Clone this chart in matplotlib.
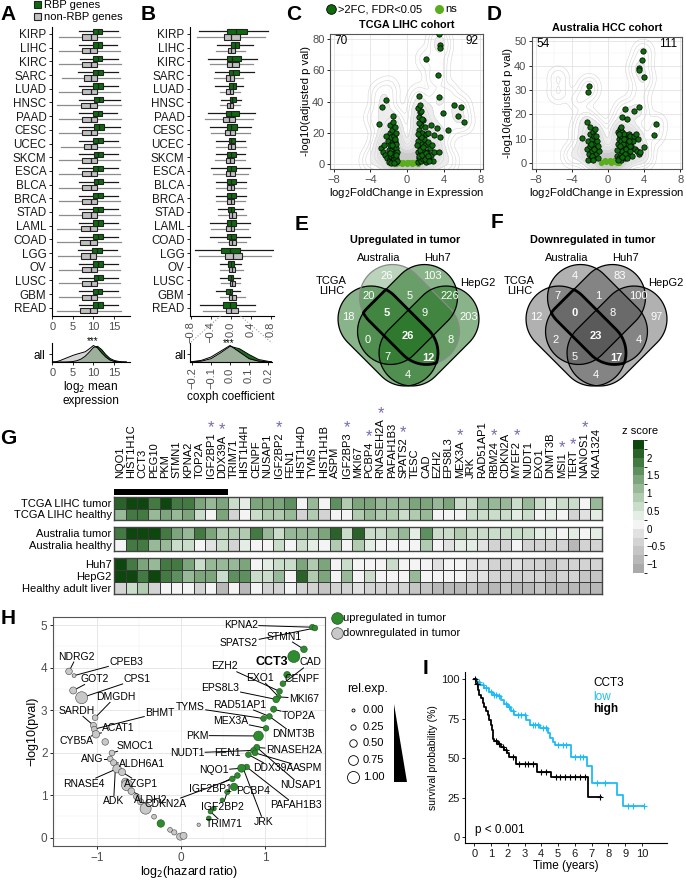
import numpy as np
import matplotlib
matplotlib.use("Agg")
import matplotlib.pyplot as plt
import matplotlib.patches as mpatches
from matplotlib.colors import ListedColormap, BoundaryNorm
from matplotlib.cm import ScalarMappable

plt.rcParams['font.family'] = ['Liberation Sans', 'DejaVu Sans']

# ---------------- data ----------------
cancers = ["KIRP", "LIHC", "KIRC", "SARC", "LUAD", "HNSC", "PAAD", "CESC", "UCEC", "SKCM", "ESCA",
           "BLCA", "BRCA", "STAD", "LAML", "COAD", "LGG", "OV", "LUSC", "GBM", "READ"]

# panel A: log2 mean expression (box stats)
A_rbp_q1 = [9.9, 9.9, 9.8, 9.9, 9.9, 10.1, 9.8, 10.2, 9.9, 10.1, 9.9, 10.1, 9.9, 9.9, 9.8, 9.9, 9.7, 9.9, 10.1, 9.9, 9.9]
A_rbp_med = [11.1, 11.1, 11.0, 11.2, 11.1, 11.3, 11.0, 11.3, 11.1, 11.2, 11.1, 11.2, 11.1, 11.1, 11.1, 11.2, 10.9, 11.1, 11.2, 11.0, 11.2]
A_rbp_q3 = [12.2, 12.2, 12.1, 12.4, 12.3, 12.4, 12.0, 12.5, 12.3, 12.4, 12.3, 12.4, 12.3, 12.3, 12.3, 12.4, 12.1, 12.3, 12.4, 12.2, 12.4]
A_rbp_lo = [6.5, 6.5, 6.8, 6.3, 6.5, 6.5, 6.5, 6.5, 6.5, 6.4, 6.3, 6.5, 6.5, 6.5, 6.5, 6.5, 6.2, 6.5, 6.5, 6.4, 6.5]
A_rbp_hi = [16.0, 15.8, 16.0, 16.0, 16.0, 16.4, 15.8, 16.4, 16.0, 16.0, 16.0, 16.0, 16.0, 16.0, 16.0, 16.0, 15.8, 16.0, 16.0, 16.0, 16.0]
A_non_q1 = [7.2, 7.2, 7.2, 7.6, 7.3, 7.0, 7.3, 7.2, 7.6, 7.2, 7.2, 7.2, 7.2, 7.2, 7.0, 6.8, 7.0, 7.2, 7.2, 7.2, 6.8]
A_non_med = [9.3, 9.2, 9.3, 9.5, 9.3, 9.1, 9.3, 9.3, 9.5, 9.3, 9.3, 9.3, 9.3, 9.3, 9.1, 9.1, 9.1, 9.3, 9.3, 9.3, 9.1]
A_non_q3 = [10.9, 10.9, 10.9, 10.9, 10.9, 10.9, 10.9, 10.9, 10.9, 10.8, 10.9, 10.9, 10.9, 10.9, 10.9, 10.9, 10.7, 10.9, 10.9, 10.8, 10.9]
A_non_lo = [1.6, 1.6, 1.6, 2.4, 1.6, 1.1, 1.6, 1.6, 2.2, 1.6, 1.6, 1.6, 1.6, 1.6, 1.1, 1.1, 1.4, 1.6, 1.6, 1.6, 1.1]
A_non_hi = [16.4, 16.4, 16.8, 16.4, 16.4, 16.8, 16.6, 16.4, 16.4, 16.4, 16.4, 16.4, 16.4, 16.4, 16.4, 16.8, 16.4, 16.4, 16.4, 16.4, 16.8]

# panel A density ("all")
A_dens_x = [0, 1, 2, 3, 4, 5, 6, 7, 8, 9, 10, 11, 12, 13, 14, 15, 16, 17, 18]
A_dens_non = [0, 0.02, 0.1, 0.2, 0.3, 0.4, 0.48, 0.55, 0.62, 0.8, 1.0, 0.85, 0.55, 0.3, 0.12, 0.04, 0.01, 0, 0]
A_dens_rbp = [0, 0, 0, 0, 0.01, 0.03, 0.08, 0.18, 0.35, 0.6, 0.88, 0.95, 0.75, 0.45, 0.22, 0.1, 0.04, 0.01, 0]

# panel B: coxph coefficient (box stats)
B_rbp_q1 = [-0.07, 0.00, -0.07, -0.03, -0.03, -0.02, -0.10, -0.07, -0.04, -0.07, -0.07, -0.07, -0.07, -0.05, -0.07, -0.07, -0.19, -0.05, -0.05, -0.09, -0.15]
B_rbp_med = [0.11, 0.08, 0.03, 0.05, 0.05, 0.03, 0.00, 0.00, 0.01, 0.00, 0.01, 0.01, 0.01, 0.00, 0.00, 0.00, -0.02, 0.00, 0.00, -0.02, -0.02]
B_rbp_q3 = [0.33, 0.17, 0.20, 0.17, 0.11, 0.10, 0.17, 0.13, 0.08, 0.10, 0.11, 0.10, 0.10, 0.07, 0.10, 0.10, 0.19, 0.07, 0.05, 0.03, 0.11]
B_rbp_lo = [-0.63, -0.27, -0.45, -0.32, -0.32, -0.19, -0.45, -0.42, -0.29, -0.30, -0.39, -0.29, -0.29, -0.25, -0.42, -0.42, -0.72, -0.22, -0.22, -0.29, -0.62]
B_rbp_hi = [0.74, 0.44, 0.52, 0.46, 0.25, 0.21, 0.48, 0.41, 0.28, 0.28, 0.38, 0.30, 0.30, 0.25, 0.38, 0.38, 0.85, 0.21, 0.18, 0.18, 0.48]
B_non_q1 = [-0.14, -0.05, -0.07, -0.09, -0.10, -0.07, -0.15, -0.11, -0.05, -0.09, -0.09, -0.07, -0.07, -0.03, -0.09, -0.03, -0.12, -0.03, -0.02, -0.03, -0.10]
B_non_med = [0.01, 0.00, 0.02, -0.01, -0.01, -0.01, -0.03, -0.01, 0.01, -0.01, -0.01, 0.00, 0.00, 0.03, 0.00, 0.02, 0.04, 0.02, 0.02, 0.02, 0.01]
B_non_q3 = [0.19, 0.08, 0.16, 0.07, 0.05, 0.04, 0.09, 0.09, 0.08, 0.07, 0.08, 0.07, 0.06, 0.11, 0.07, 0.11, 0.23, 0.09, 0.08, 0.10, 0.15]
B_non_lo = [-0.67, -0.30, -0.41, -0.34, -0.22, -0.22, -0.52, -0.39, -0.29, -0.32, -0.35, -0.30, -0.29, -0.25, -0.39, -0.25, -0.64, -0.22, -0.19, -0.22, -0.55]
B_non_hi = [0.68, 0.28, 0.45, 0.25, 0.18, 0.18, 0.45, 0.38, 0.31, 0.28, 0.35, 0.30, 0.28, 0.31, 0.35, 0.30, 0.80, 0.25, 0.18, 0.28, 0.48]

B_dens_x = [-0.22, -0.2, -0.15, -0.1, -0.05, 0.0, 0.05, 0.1, 0.15, 0.2, 0.22]
B_dens_non = [0, 0.02, 0.1, 0.3, 0.65, 1.0, 0.6, 0.2, 0.05, 0.01, 0]
B_dens_rbp = [0, 0.01, 0.05, 0.2, 0.55, 0.95, 0.8, 0.45, 0.15, 0.04, 0.01]

# panel C: TCGA LIHC volcano
C_up_x = [1.2, 1.2, 1.25, 1.3, 1.3, 1.35, 1.4, 1.4, 1.45, 1.5, 1.5, 1.55, 1.6, 1.65, 1.7, 1.75, 1.8, 1.85, 1.9, 2.0,
          2.1, 2.1, 2.2, 2.3, 2.4, 2.5, 2.6, 2.7, 2.8, 2.9, 1.3, 1.5, 1.6, 2.0, 2.3, 1.25, 1.4, 1.3,
          1.35, 1.45, 1.55, 1.65, 1.75, 1.95, 2.05, 2.25, 2.45, 1.15, 1.2, 3.5, 3.6, 3.6, 2.1, 3.4, 3.5, 3.9, 5.1, 5.9, 5.6,
          6.2, 4.5, 3.6, 3.3, 2.6, 2.9, 3.5]
C_up_y = [1, 8, 15, 22, 4, 30, 11, 33, 18, 2, 25, 7, 13, 20, 3, 28, 9, 16, 5, 12,
          1.5, 19, 8, 14, 3, 10, 6, 12, 2, 8, 26, 34, 29, 24, 20, 36, 38, 43.5,
          5, 9, 17, 6, 11, 3, 7, 5, 2, 12, 19, 83, 76, 74, 67, 57, 42.6, 32.5, 37.6, 36.8, 30.8,
          27, 22, 17.5, 23, 25, 18.6, 7.5]
C_dn_x = [-2.8, -2.6, -2.5, -2.4, -2.2, -2.1, -2.0, -1.9, -1.9, -1.8, -1.8, -1.7, -1.7, -1.6, -1.6, -1.6, -1.55, -1.5, -1.5, -1.45,
          -1.4, -1.4, -1.35, -1.3, -1.3, -1.25, -1.25, -1.2, -1.2, -1.15, -1.1, -1.1, -2.3, -2.0, -1.75, -1.45, -1.9, -1.65, -1.35, -1.2,
          -3.0, -2.7, -2.25, -1.55]
C_dn_y = [10, 8, 12, 6, 4, 15, 9, 3, 20, 12, 25, 5, 17, 2, 9, 22, 14, 27, 6, 18,
          11, 3, 24, 7, 15, 1, 20, 10, 4, 13, 2, 8, 18, 1.5, 0.8, 0.5, 7, 12, 16, 6,
          25.5, 36.8, 41, 30.8]
C_ns_x = [-1.2, -1.0, -0.8, -0.6, -0.4, -0.2, 0.0, 0.2, 0.4, 0.6, 0.8, 1.0, 1.2, -0.5, 0.5, 0.0, -0.9, 0.9]
C_ns_y = [0.3, 0.8, 1.2, 0.5, 1.5, 0.7, 1.0, 1.4, 0.6, 1.1, 0.9, 0.4, 0.2, 0.2, 0.3, 0.2, 0.4, 1.6]
C_bg_x = [-4.0, -3.5, -3.0, -2.5, -2.0, -1.5, -1.0, -0.5, 0.0, 0.5, 1.0, 1.5, 2.0, 2.5, 3.0, 3.5, 4.0, 4.5,
          -3.0, -2.5, -2.0, -1.5, -1.0, 1.0, 1.5, 2.0, 2.5, 3.0, 3.5, -3.5, -2.5, -1.5, 1.5, 2.5, 3.5,
          -3.0, -2.0, 3.0, 3.5, 3.5, 4.5, 5.5]
C_bg_y = [2, 3, 4, 5, 6, 5, 3, 1, 0.5, 1, 3, 5, 6, 5, 4, 3, 2, 1.5,
          12, 15, 18, 15, 10, 10, 15, 18, 15, 12, 10, 30, 35, 25, 28, 35, 40,
          45, 48, 55, 65, 78, 45, 30]

# panel D: Australia HCC volcano
D_up_x = [1.0, 1.1, 1.1, 1.2, 1.2, 1.3, 1.3, 1.4, 1.4, 1.5, 1.5, 1.6, 1.6, 1.7, 1.8, 1.8, 1.9, 2.0, 2.0, 2.1,
          2.2, 2.3, 2.4, 2.5, 2.6, 2.7, 2.8, 3.0, 3.2, 3.4, 1.05, 1.25, 1.45, 1.65, 1.85, 2.15, 2.45, 2.9, 3.3,
          1.15, 1.35, 1.55, 1.75, 2.35, 3.9, 3.75, 3.4, 3.45, 4.0, 1.93, 3.45, 2.9, 1.56, 2.1, 5.35, 5.1, 4.0, 3.6, 3.1]
D_up_y = [3, 8, 13, 2, 10, 6, 14, 4, 11, 1.5, 9, 5, 13, 3, 7, 12, 2, 6, 10, 4,
          8, 12, 5, 11, 7, 3, 9, 6, 5, 4, 5.5, 12, 15, 8, 4, 2, 7, 11, 10,
          1.5, 7, 2.5, 10, 9, 45.9, 42.2, 39, 38, 35.2, 22.3, 22.9, 21.5, 18.9, 18.2, 16, 11.6, 6.8, 4.5, 12]
D_dn_x = [-2.3, -2.2, -2.1, -2.0, -2.0, -1.9, -1.8, -1.8, -1.7, -1.6, -1.6, -1.5, -1.4, -1.4, -1.3, -1.2, -1.1, -1.0,
          -2.15, -1.95, -1.75, -1.55, -1.35, -1.15, -1.85, -1.65, -2.07, -2.2, -2.36, -2.9]
D_dn_y = [6, 9, 4, 12, 7, 2, 10, 5, 13, 3, 8, 11, 6, 14, 4, 9, 2, 5,
          1.5, 15, 3, 6, 11, 7, 8, 1.5, 31.8, 29.2, 17, 10.3]
D_ns_x = [-0.8, -0.6, -0.4, -0.2, 0.0, 0.2, 0.4, 0.6, 0.8, 1.0, 1.2, -0.3, 0.3, 0.7]
D_ns_y = [0.3, 0.6, 1.0, 0.5, 0.8, 1.2, 0.6, 0.9, 0.5, 0.3, 0.2, 1.4, 0.2, 1.3]
D_bg_x = [-4.0, -3.5, -3.0, -2.5, -2.0, -1.5, -1.0, -0.5, 0.0, 0.5, 1.0, 1.5, 2.0, 2.5, 3.0, 3.5, 4.0,
          -3.0, -2.5, -1.5, -1.0, 1.5, 2.5, 3.5, 3.5, 3.8, -5.5, -5.5, -3.2]
D_bg_y = [3, 4, 5, 6, 5, 4, 2, 1, 0.5, 1, 3, 5, 6, 5, 4, 3, 2,
          14, 18, 12, 8, 12, 14, 20, 28, 33, 35, 29, 26]

# panels E/F: Venn counts (order: Aus, Huh7, TCGA&Aus, Aus&Huh7, Huh7&HepG2, TCGA, TCGA&Aus&Huh7,
# Aus&Huh7&HepG2, HepG2, TCGA&Huh7, all, Aus&HepG2, TCGA&Huh7&HepG2, TCGA&Aus&HepG2, TCGA&HepG2)
venn_up = [26, 103, 20, 5, 226, 18, 5, 9, 203, 0, 26, 8, 7, 12, 4]
venn_down = [4, 83, 7, 1, 100, 12, 0, 8, 97, 2, 23, 4, 5, 17, 4]
venn_bold = [False, False, False, False, False, False, True, False, False, False, True, False, False, True, False]

# panel G: heatmap z scores
genes = ["NQO1", "HIST1H1C", "CCT3", "PEG10", "PKM", "STMN1", "KPNA2", "TOP2A", "IGF2BP1", "DDX39A",
         "TRIM71", "HIST1H4H", "CENPF", "NUSAP1", "IGF2BP2", "FEN1", "HIST1H4D", "TYMS", "HIST1H1B", "ASPM",
         "IGF2BP3", "MKI67", "PCBP4", "RNASEH2A", "PAFAH1B3", "SPATS2", "TESC", "CAD", "EZH2", "EPS8L3",
         "MEX3A", "JRK", "RAD51AP1", "RBM24", "CDKN2A", "MYEF2", "NUDT1", "EXO1", "DNMT3B", "MSI1",
         "TERT", "NANOS1", "KIAA1324"]
starred = ["IGF2BP1", "DDX39A", "IGF2BP2", "IGF2BP3", "PCBP4", "RNASEH2A", "SPATS2", "MEX3A", "RBM24",
           "MYEF2", "MSI1", "TERT", "NANOS1"]
hm_tcga_tumor = [2.0, 2.4, 2.4, 1.9, 2.4, 1.9, 1.8, 1.4, 1.0, 1.4, 0.6, 0.3, 1.4, 1.3,
                 1.3, 1.5, 0.1, 1.0, 0.1, 1.5, 0.9, 1.4, 1.4, 1.1, 1.1, 1.2, 1.4, 1.4, 1.0, 1.4,
                 0.7, 0.6, 1.0, 1.0, 1.0, 0.6, 1.0, 0.5, 0.3, 0.6, 0.7, 0.2, 1.2]
hm_tcga_healthy = [1.0, 1.8, 1.8, 1.0, 1.3, 1.1, 1.4, 0.6, 0.1, 1.4, -0.4, 0.2, 0.5, 0.8,
                   0.8, 1.2, -0.3, 0.8, -0.4, 0.2, 0.1, 0.8, 1.2, 0.8, 0.8, 0.7, 0.8, 1.2, 0.2, 0.0,
                   0.2, 0.7, 0.7, 0.5, 0.6, 0.3, 0.5, 0.2, 0.3, 0.1, -0.4, -0.2, 0.3]
hm_aus_tumor = [1.8, 2.4, 2.4, 2.4, 1.8, 1.4, 1.1, 1.8, 1.4, 0.9, 0.9, 0.8, 1.8, 1.0,
                0.6, 1.0, 1.0, 1.0, 1.3, 2.1, 0.5, 2.0, 0.7, 0.7, 0.8, 1.1, 0.3, 1.5, 0.7, 0.7,
                0.8, 0.7, 0.6, 0.6, 0.5, 0.5, 0.6, 0.3, 0.3, 0.2, 0.3, 0.1, 0.4]
hm_aus_healthy = [0.2, 1.8, 1.8, 1.0, 1.0, 0.6, 0.6, 0.1, -0.2, 0.5, -0.5, 0.3, 0.0, 0.2,
                  0.6, 0.0, 0.6, 0.3, 0.2, 0.8, 0.2, 0.8, 0.3, 0.2, 0.0, 0.2, 0.0, 0.8, 0.1, -0.2,
                  0.3, 0.3, -0.2, -0.3, -0.3, 0.2, -0.3, -0.3, -0.5, -0.3, -0.8, -0.5, -0.5]
hm_huh7 = [2.3, 1.8, 1.4, 1.0, 1.8, 1.8, 1.4, 0.5, 1.2, 1.0, 1.2, 1.3, 0.2, 0.4,
           0.6, 0.6, 1.4, 0.8, 1.4, 0.2, 0.6, 0.1, 0.2, 0.2, 0.6, 0.2, 0.2, 0.2, -0.2, 0.0,
           0.0, -0.2, -0.2, -0.3, -0.4, -0.2, -0.3, -0.5, -0.7, -0.4, -0.5, -0.4, -0.5]
hm_hepg2 = [2.4, 2.4, 1.8, 2.4, 1.8, 1.5, 1.1, 1.4, 1.3, 0.6, 1.5, 1.5, 0.7, 0.6,
            1.2, 0.1, 2.0, 0.8, 1.3, 0.2, 1.1, 0.2, 0.6, 0.2, 0.1, 0.1, 1.2, 0.1, 0.0, 0.1,
            0.0, -0.2, -0.2, -0.4, -0.4, -0.3, -0.3, -0.3, -0.6, -0.5, -0.5, -0.6, -0.6]
hm_liver = [-0.5, 0.5, 0.9, -0.4, 0.1, 0.2, 0.1, -0.5, 0.1, -0.9, 0.0, -0.8, 0.15, -0.3,
            -0.3, 0.0, -0.3, -0.5, -0.7, -0.4, -0.4, -0.2, -0.3, -0.5, -0.5, -0.3, -0.6, -0.6, -0.8, -0.8,
            -0.8, -0.6, -0.9, -0.9, -0.7, -0.8, -0.8, -0.7, -0.9, -0.9, -1.0, -0.9, -0.8]
hm_groups = [(["TCGA LIHC tumor", "TCGA LIHC healthy"], [hm_tcga_tumor, hm_tcga_healthy]),
             (["Australia tumor", "Australia healthy"], [hm_aus_tumor, hm_aus_healthy]),
             (["Huh7", "HepG2", "Healthy adult liver"], [hm_huh7, hm_hepg2, hm_liver])]
hm_colors = ['#aaaaaa', '#b8b8b8', '#c5c5c5', '#d3d3d3', '#e1e1e1', '#f4f4f4', '#e4ede4', '#cadcca',
             '#b0cbb0', '#97b997', '#7ca57c', '#5e8f5e', '#427a42', '#2a622a', '#0e470e']

# panel H: hazard ratio vs p value
H_up_x = [1.56, 1.59, 1.46, 1.34, 1.26, 1.21, 1.17, 1.16, 1.13, 1.10, 1.05, 0.98, 1.01, 0.92, 0.90, 0.86, 0.80,
          0.88, 0.78, 0.72, 0.67, 0.63, 0.61, 0.55, 0.49, 0.39, 0.35, 0.33, -0.24]
H_up_y = [4.95, 4.93, 4.43, 4.26, 3.83, 3.62, 3.44, 3.31, 3.25, 3.02, 2.85, 2.80, 2.57, 2.39, 2.12, 2.05, 1.95,
          1.99, 1.66, 1.63, 1.46, 1.19, 1.38, 1.07, 0.88, 0.68, 0.61, 0.45, 0.33]
H_up_rel = [0.3, 0.3, 0.4, 1.0, 0.4, 0.3, 0.3, 0.2, 0.4, 0.35, 0.3, 0.3, 0.3, 0.75, 0.35, 0.3, 0.3,
            0.3, 0.3, 0.55, 0.3, 0.5, 0.3, 0.25, 0.15, 0.2, 0.2, 0.2, 0.5]
H_dn_x = [-1.33, -1.27, -1.28, -1.18, -1.02, -1.04, -1.03, -1.01, -0.90, -0.82, -0.84, -0.80, -0.76, -0.70,
          -0.66, -0.64, -0.59, -0.53, -0.48, -0.42, -0.32, -0.13, -0.08, -0.01, 0.03, 0.21]
H_dn_y = [3.91, 3.81, 3.46, 3.29, 2.82, 2.64, 2.55, 2.43, 2.25, 1.99, 1.85, 1.76, 1.62, 1.54,
          1.31, 1.23, 1.09, 0.96, 0.84, 0.68, 0.49, 0.18, 0.12, 0.02, 0.04, 0.30]
H_dn_rel = [0.4, 0.1, 0.45, 1.0, 0.3, 0.35, 0.3, 0.5, 0.4, 0.3, 0.3, 0.35, 0.6, 0.45,
            0.5, 0.9, 0.4, 0.3, 0.35, 0.9, 0.2, 0.2, 0.25, 0.45, 0.45, 0.05]
H_lab = ["KPNA2", "SPATS2", "STMN1", "CCT3", "CAD", "EZH2", "EXO1", "CENPF", "EPS8L3", "MKI67", "RAD51AP1",
         "TYMS", "TOP2A", "MEX3A", "DNMT3B", "PKM", "RNASEH2A", "NUDT1", "FEN1", "DDX39A", "ASPM", "NQO1",
         "NUSAP1", "IGF2BP1", "PCBP4", "CDKN2A", "PAFAH1B3", "IGF2BP2", "JRK", "TRIM71",
         "NDRG2", "CPEB3", "GOT2", "CPS1", "DMGDH", "SARDH", "BHMT", "ACAT1", "CYB5A", "SMOC1", "ANG",
         "ALDH6A1", "RNASE4", "AZGP1", "ADK", "ALDH2"]
H_lab_x = [0.71, 0.69, 1.22, 1.08, 1.54, 0.52, 0.94, 1.44, 0.47, 1.46, 0.70, 0.11, 1.40, 0.59, 1.34, 0.19,
           1.34, 0.07, 0.55, 1.10, 1.50, 0.39, 1.42, 0.35, 0.86, -0.18, 1.36, 0.49, 0.98, 0.51,
           -1.24, -0.65, -1.02, -0.52, -0.78, -1.24, -0.25, -0.74, -1.24, -0.54, -1.06, -0.46, -1.16, -0.48, -0.80, -0.36]
H_lab_y = [5.00, 4.57, 4.73, 4.14, 4.12, 4.03, 3.76, 3.72, 3.52, 3.27, 3.13, 3.06, 2.86, 2.74, 2.43, 2.40,
           2.05, 1.99, 1.99, 1.63, 1.63, 1.58, 1.23, 1.15, 1.09, 0.80, 0.76, 0.72, 0.37, 0.31,
           4.26, 4.14, 3.73, 3.73, 3.31, 2.98, 2.94, 2.57, 2.26, 2.16, 1.85, 1.73, 1.27, 1.27, 0.86, 0.88]
H_tgt_x = [1.56, 1.59, 1.46, np.nan, 1.21, 1.17, 1.16, 1.26, 1.13, 1.16, 1.05, 0.98, 1.10, 1.01, 1.05, 0.92,
           0.90, 0.86, np.nan, 0.80, 0.88, 0.72, 0.90, 0.67, 0.63, 0.61, 0.78, 0.55, 0.74, 0.35,
           -1.33, -1.27, -1.28, -1.18, -1.02, -1.04, -1.03, -1.01, -1.01, -0.82, -0.84, -0.80, -0.76, -0.70, -0.78, -0.59]
H_tgt_y = [4.95, 4.93, 4.43, np.nan, 3.62, 3.44, 3.31, 3.83, 3.25, 3.31, 2.85, 2.80, 3.02, 2.57, 2.85, 2.39,
           2.12, 2.05, np.nan, 1.95, 1.99, 1.63, 2.12, 1.46, 1.19, 1.38, 1.66, 1.07, 1.62, 0.61,
           3.91, 3.81, 3.46, 3.29, 2.82, 2.64, 2.55, 2.43, 2.43, 1.99, 1.85, 1.76, 1.62, 1.54, 1.60, 1.09]
size_legend = [0.00, 0.25, 0.50, 0.75, 1.00]

# panel I: Kaplan-Meier CCT3
km_low_t = [0, 0.15, 0.35, 0.6, 0.9, 1.1, 1.4, 1.6, 1.8, 2.0, 2.2, 2.4, 3.1, 3.3, 3.9, 4.4, 4.5, 4.7, 4.8, 5.8, 6.7, 7.0, 8.5, 8.9, 10.1]
km_low_s = [100, 98, 96, 94, 92, 90, 89, 87, 84, 82, 80, 77, 74, 71, 69, 66, 63, 60, 58, 51, 45, 34, 27, 20, 20]
km_low_cens = [0.3, 0.5, 0.7, 1.0, 1.2, 1.3, 1.5, 1.9, 2.1, 2.3, 2.6, 2.8, 3.0, 3.5, 3.6, 3.8, 4.1, 4.3, 5.0, 5.3,
               5.5, 6.0, 6.3, 6.5, 7.3, 7.8, 9.2, 9.5, 10.1]
km_high_t = [0, 0.1, 0.2, 0.3, 0.4, 0.5, 0.6, 0.7, 0.8, 0.9, 1.0, 1.05, 1.1, 1.2, 1.4, 1.6, 1.8, 1.95, 2.1, 2.5, 3.75, 4.6, 6.8, 7.55]
km_high_s = [100, 97, 93, 90, 88, 85, 82, 80, 77, 74, 71, 68, 62, 61, 59, 57, 55, 53, 50.5, 46.5, 41, 38, 25.5, 25.5]
km_high_cens = [0.05, 0.15, 1.3, 1.5, 1.7, 1.9, 2.3, 2.7, 3.0, 3.2, 3.5, 4.0, 4.3, 4.9, 5.1, 5.4, 5.7, 6.0, 6.3, 6.6, 7.5]

# ---------------- figure ----------------
W, H = 686, 881
fig = plt.figure(figsize=(W / 100, H / 100), dpi=100)
GREEN = '#0d6b0d'
LGREEN = '#5aae1e'


def px_axes(x0, y0, x1, y1):
    return fig.add_axes([x0 / W, 1 - y1 / H, (x1 - x0) / W, (y1 - y0) / H])


def style_classic(ax):
    for s in ['top', 'right']:
        ax.spines[s].set_visible(False)
    for s in ['left', 'bottom']:
        ax.spines[s].set_linewidth(0.8)
    ax.tick_params(length=2.5, width=0.6, labelsize=8, labelcolor='#4d4d4d', pad=1.5)


def style_bw(ax, xmaj, xmin, ymaj, ymin):
    ax.set_xticks(xmaj)
    ax.set_xticks(xmin, minor=True)
    ax.set_yticks(ymaj)
    ax.set_yticks(ymin, minor=True)
    ax.grid(which='major', color='#e3e3e3', lw=0.6)
    ax.grid(which='minor', color='#f0f0f0', lw=0.35)
    ax.set_axisbelow(True)
    for s in ax.spines.values():
        s.set_color('#555555')
        s.set_linewidth(0.8)
    ax.tick_params(which='minor', length=0)
    ax.tick_params(which='major', length=2.5, width=0.6, labelsize=8, labelcolor='#4d4d4d', pad=1.5)


def box_panel(ax, rq1, rmed, rq3, rlo, rhi, nq1, nmed, nq3, nlo, nhi):
    pos = np.arange(len(cancers))
    for q1, med, q3, lo, hi, off, face, wc in [
            (nq1, nmed, nq3, nlo, nhi, 0.22, '#c0c0c0', '#8c8c8c'),
            (rq1, rmed, rq3, rlo, rhi, -0.2, GREEN, '#1a1a1a')]:
        stats = [dict(q1=a, med=b, q3=c, whislo=d, whishi=e, fliers=[])
                 for a, b, c, d, e in zip(q1, med, q3, lo, hi)]
        ax.bxp(stats, positions=pos + off, widths=0.38, orientation='horizontal', patch_artist=True,
               showfliers=False, showcaps=False, manage_ticks=False,
               boxprops=dict(facecolor=face, edgecolor='#222222', linewidth=0.8),
               medianprops=dict(color='#222222', linewidth=0.9),
               whiskerprops=dict(color=wc, linewidth=0.9, zorder=1))
    ax.set_yticks(pos)
    ax.set_yticklabels(cancers)
    ax.set_ylim(20.6, -0.51)
    style_classic(ax)
    ax.tick_params(axis='y', labelsize=8.4, labelcolor='#1a1a1a')


def dens_panel(ax, xs, non, rbp, xlim):
    ax.fill_between(xs, rbp, color='#1d6b1d', lw=0)
    ax.plot(xs, rbp, color='black', lw=0.7)
    ax.fill_between(xs, non, color='#c8c8c8', alpha=0.75, lw=0)
    ax.plot(xs, non, color='black', lw=0.7)
    ax.set_xlim(*xlim)
    ax.set_ylim(0, 1.15)
    ax.set_yticks([0.5])
    ax.set_yticklabels([''])
    style_classic(ax)


# A
axA = px_axes(52, 27, 130, 316)
box_panel(axA, A_rbp_q1, A_rbp_med, A_rbp_q3, A_rbp_lo, A_rbp_hi,
          A_non_q1, A_non_med, A_non_q3, A_non_lo, A_non_hi)
axA.set_xlim(-0.1, 18.9)
axA.set_xticks([0, 5, 10, 15])
axAd = px_axes(52, 343, 130, 362)
dens_panel(axAd, A_dens_x, A_dens_non, A_dens_rbp, (-0.1, 18.9))
axAd.set_xticks([0, 5, 10, 15])
axAd.set_xlabel('log$_2$ mean\nexpression', fontsize=8.5, labelpad=1, linespacing=1.0)

# B
axB = px_axes(190, 27, 274, 316)
box_panel(axB, B_rbp_q1, B_rbp_med, B_rbp_q3, B_rbp_lo, B_rbp_hi,
          B_non_q1, B_non_med, B_non_q3, B_non_lo, B_non_hi)
axB.set_xlim(-0.81, 0.87)
axB.set_xticks([-0.8, -0.4, 0.0, 0.4, 0.8])
axB.tick_params(axis='x', labelrotation=90)
axBd = px_axes(190, 343, 272, 362)
dens_panel(axBd, B_dens_x, B_dens_non, B_dens_rbp, (-0.21, 0.22))
axBd.set_xticks([-0.2, -0.1, 0.0, 0.1, 0.2])
axBd.tick_params(axis='x', labelrotation=90)
axBd.set_xlabel('coxph coefficient', fontsize=8.5, labelpad=1)


# C / D volcano
def kde(xs, ys, gx, gy, bx, by):
    X, Y = np.meshgrid(gx, gy)
    Z = np.zeros_like(X)
    for x, y in zip(xs, ys):
        Z += np.exp(-0.5 * (((X - x) / bx) ** 2 + ((Y - y) / by) ** 2))
    return X, Y, Z / Z.max()


def volcano(ax, up_x, up_y, dn_x, dn_y, ns_x, ns_y, bg_x, bg_y, xlim, ylim, ymaj, ymin, by, n_dn, n_up, title):
    style_bw(ax, [-8, -4, 0, 4, 8], [-6, -2, 2, 6], ymaj, ymin)
    allx = list(up_x) + list(dn_x) + list(ns_x) * 3 + list(bg_x)
    ally = list(up_y) + list(dn_y) + list(ns_y) * 3 + list(bg_y)
    X, Y, Z = kde(allx, ally, np.linspace(-8.5, 8.5, 240), np.linspace(ylim[0], ylim[1], 240), 0.65, by)
    ax.contourf(X, Y, Z, levels=[0.06, 0.15, 0.3, 0.5, 1.01],
                colors=['#ededed', '#e2e2e2', '#d6d6d6', '#cacaca'], zorder=1)
    ax.contour(X, Y, Z, levels=[0.005, 0.015, 0.03, 0.06, 0.11],
               colors='#d0d0d0', linewidths=0.35, zorder=1.5)
    ax.scatter(ns_x, ns_y, s=14, color=LGREEN, lw=0, zorder=2)
    ax.scatter(list(dn_x) + list(up_x), list(dn_y) + list(up_y), s=15, facecolor=GREEN,
               edgecolor='black', lw=0.5, zorder=3)
    ax.set_xlim(*xlim)
    ax.set_ylim(*ylim)
    ax.text(0.03, 0.95, str(n_dn), transform=ax.transAxes, ha='left', va='center', fontsize=8.5)
    ax.text(0.97, 0.95, str(n_up), transform=ax.transAxes, ha='right', va='center', fontsize=8.5)
    ax.set_xlabel('log$_2$FoldChange in Expression', fontsize=8.2, labelpad=1)
    ax.set_ylabel('-log10(adjusted p val)', fontsize=8.2, labelpad=1)
    ax.set_title(title, fontsize=7.8, fontweight='bold', pad=4)


axC = px_axes(330, 34, 483, 169)
volcano(axC, C_up_x, C_up_y, C_dn_x, C_dn_y, C_ns_x, C_ns_y, C_bg_x, C_bg_y, (-8.4, 8.3), (-3.2, 83.2),
        [0, 20, 40, 60, 80], [10, 30, 50, 70], 4.5, 70, 92, 'TCGA LIHC cohort')
axD = px_axes(532, 37, 682, 169)
volcano(axD, D_up_x, D_up_y, D_dn_x, D_dn_y, D_ns_x, D_ns_y, D_bg_x, D_bg_y, (-8.4, 8.2), (-2.3, 51.7),
        [0, 10, 20, 30, 40, 50], [5, 15, 25, 35, 45], 2.6, 54, 111, 'Australia HCC cohort')

# G heatmap
bounds = np.arange(-1.25, 2.51, 0.25)
cmap = ListedColormap(hm_colors)
norm = BoundaryNorm(bounds, cmap.N)
hm_left, hm_right = 114.3, 601.6
cell_w = (hm_right - hm_left) / len(genes)
hm_boxes = [(497, 520), (527, 551), (558, 594)]
for (names, rows), (y0, y1) in zip(hm_groups, hm_boxes):
    axg = px_axes(hm_left, y0, hm_right, y1)
    axg.pcolormesh(np.array(rows), cmap=cmap, norm=norm, edgecolors='#3a3a3a', linewidth=0.6)
    axg.set_xlim(0, len(genes))
    axg.set_ylim(len(rows), 0)
    axg.set_xticks([])
    axg.set_yticks(np.arange(len(rows)) + 0.5)
    axg.set_yticklabels(names, fontsize=8)
    axg.tick_params(axis='y', length=0, pad=2)
    for s in axg.spines.values():
        s.set_color('#444444')
        s.set_linewidth(1.0)

cax = px_axes(633, 440, 644, 573)
cb = fig.colorbar(ScalarMappable(norm=norm, cmap=cmap), cax=cax, ticks=[-1, -0.5, 0, 0.5, 1, 1.5, 2])
cb.outline.set_visible(False)
cb.ax.tick_params(length=0, labelsize=7, pad=2)
cb.ax.set_yticklabels(['\u22121', '\u22120.5', '0', '0.5', '1', '1.5', '2'])

# H
axH = px_axes(53, 617, 325, 846)
style_bw(axH, [-1, 0, 1], [-1.5, -0.5, 0.5, 1.5], [0, 1, 2, 3, 4, 5], [0.5, 1.5, 2.5, 3.5, 4.5])
axH.set_xlim(-1.52, 1.71)
axH.set_ylim(-0.2, 5.19)


def rel_size(rel):
    return ((3 + 9 * np.asarray(rel)) * 0.72) ** 2


axH.scatter(H_dn_x, H_dn_y, s=rel_size(H_dn_rel), facecolor='#c8c8c8', edgecolor='#444444', lw=0.4, zorder=3)
axH.scatter(H_up_x, H_up_y, s=rel_size(H_up_rel), facecolor='#2e8b2e', edgecolor='#1f4f1f', lw=0.4, zorder=3)
axH.set_xlabel('log$_2$(hazard ratio)', fontsize=9, labelpad=0)
axH.set_ylabel('\u2212log10(pval)', fontsize=9, labelpad=2)
axH.tick_params(labelsize=8.5)
h_texts = []
for lab, tx, ty in zip(H_lab, H_lab_x, H_lab_y):
    bold = lab == 'CCT3'
    h_texts.append(axH.text(tx, ty, lab, ha='center', va='center', fontsize=9 if bold else 7.5,
                            fontweight='bold' if bold else 'normal', zorder=4))

# I
axI = px_axes(465, 672, 667, 843)
style_classic(axI)
axI.tick_params(labelcolor='#1a1a1a', labelsize=8)
axI.step(km_low_t, km_low_s, where='post', color='#1ebcf5', lw=1.3)
axI.step(km_high_t, km_high_s, where='post', color='black', lw=1.3)
for ct, cs, cc in [(km_low_cens, (km_low_t, km_low_s), '#1ebcf5'), (km_high_cens, (km_high_t, km_high_s), 'black')]:
    idx = np.searchsorted(cs[0], ct, side='right') - 1
    axI.scatter(ct, np.array(cs[1])[idx], marker='+', s=14, color=cc, lw=0.8, zorder=3)
axI.set_xlim(-0.55, 11.5)
axI.set_ylim(-3.6, 104.4)
axI.set_xticks(range(0, 11))
axI.set_yticks([0, 25, 50, 75, 100])
axI.set_xlabel('Time (years)', fontsize=8.5, labelpad=1)
axI.set_ylabel('survival probability (%)', fontsize=7.5, labelpad=2)
axI.text(7.1, 97.5, 'CCT3', fontsize=8.5, va='center')
axI.text(7.1, 88.7, 'low', fontsize=8.5, va='center', color='#1ebcf5')
axI.text(7.1, 81, 'high', fontsize=8.5, va='center', fontweight='bold')
axI.text(0.05, 4.6, 'p < 0.001', fontsize=8.5, va='center')

# ---------------- overlay (pixel coords) ----------------
ov = fig.add_axes([0, 0, 1, 1])
ov.set_xlim(0, W)
ov.set_ylim(H, 0)
ov.axis('off')

for lab, x, y in [('A', 8, 15), ('B', 148, 15), ('C', 294, 15), ('D', 494, 15), ('E', 302, 225),
                  ('F', 497, 222), ('G', 8, 438), ('H', 8, 618), ('I', 425, 669)]:
    ov.text(x, y, lab, fontsize=15, fontweight='bold', ha='center', va='center')

# A legend
ov.add_patch(mpatches.Rectangle((34, 1), 7, 7, facecolor=GREEN, edgecolor='#222222', lw=0.8))
ov.add_patch(mpatches.Rectangle((34, 13), 7, 7, facecolor='#c0c0c0', edgecolor='#222222', lw=0.8))
ov.text(44, 4.5, 'RBP genes', fontsize=8, va='center')
ov.text(44, 16.5, 'non-RBP genes', fontsize=8, va='center')
ov.text(45, 356, 'all', fontsize=8.5, ha='right', va='center')
ov.text(186, 356, 'all', fontsize=8.5, ha='right', va='center')
ov.text(93, 341, '***', fontsize=7, ha='center', va='center')
ov.text(229, 343, '***', fontsize=7, ha='center', va='center')
ov.plot([220.5, 190], [316, 343], ls=':', color='#999999', lw=0.8)
ov.plot([240.5, 272], [316, 343], ls=':', color='#999999', lw=0.8)

# C legend
ov.scatter([331], [9], s=48, facecolor=GREEN, edgecolor='black', lw=0.6)
ov.text(338, 9, '>2FC, FDR<0.05', fontsize=8, va='center')
ov.scatter([439], [9], s=42, facecolor=LGREEN, lw=0)
ov.text(445, 9, 'ns', fontsize=8, va='center')


# E / F Venn
def stadium_poly(cx, cy, ang, h, r, n=40):
    a = np.radians(ang)
    d = np.array([np.cos(a), np.sin(a)])
    nv = np.array([-np.sin(a), np.cos(a)])
    t1 = np.linspace(-np.pi / 2, np.pi / 2, n)
    t2 = np.linspace(np.pi / 2, 3 * np.pi / 2, n)
    c = np.array([cx, cy])
    arc1 = c + h * d + r * (np.cos(t1)[:, None] * d + np.sin(t1)[:, None] * nv)
    arc2 = c - h * d + r * (np.cos(t2)[:, None] * d + np.sin(t2)[:, None] * nv)
    return np.vstack([arc1, arc2])


def stadium_field(X, Y, cx, cy, ang, h, r):
    a = np.radians(ang)
    dx, dy = np.cos(a), np.sin(a)
    px, py = X - cx, Y - cy
    t = np.clip(px * dx + py * dy, -h, h)
    return r - np.hypot(px - t * dx, py - t * dy)


def venn(x_shift, counts, face, aus_alpha, aus_edge, title, face_alpha):
    xm = 408.5 + x_shift
    r, h = 33, 24
    shapes = [('TCGA', xm - 20.5, 336, 45), ('Aus', xm + 1, 314.5, 45),
              ('Huh7', xm - 1, 314.5, 135), ('HepG2', xm + 20.5, 336, 135)]
    for name, cx, cy, ang in shapes:
        al = aus_alpha if name == 'Aus' else face_alpha
        ov.add_patch(mpatches.Polygon(stadium_poly(cx, cy, ang, h, r), closed=True, facecolor=face,
                                      alpha=al, lw=0))
    for name, cx, cy, ang in shapes:
        ec = aus_edge if name == 'Aus' else 'black'
        ov.add_patch(mpatches.Polygon(stadium_poly(cx, cy, ang, h, r), closed=True, facecolor='none',
                                      edgecolor=ec, lw=0.9))
    gx = np.linspace(xm - 70, xm + 70, 400)
    gy = np.linspace(255, 395, 400)
    X, Y = np.meshgrid(gx, gy)
    f = [stadium_field(X, Y, cx, cy, ang, h, r) for _, cx, cy, ang in shapes]
    thick = np.minimum(np.minimum(f[0], f[1]), np.maximum(f[2], f[3]))
    ov.contour(X, Y, thick, levels=[0], colors='black', linewidths=2.0)
    pos = [(-21.5, 276), (23.5, 276), (-39.5, 296), (1.5, 296), (41.5, 296), (-60.5, 317), (-21.5, 313),
           (16.5, 313), (60.5, 317), (-40.5, 340), (-0.5, 336), (42.5, 340), (-21.5, 357), (19.5, 358), (-0.5, 375)]
    for (dx, y), c, b in zip(pos, counts, venn_bold):
        ov.text(xm + dx, y, str(c), color='white', fontsize=8, ha='center', va='center',
                fontweight='bold' if b else 'normal')
    ov.text(xm - 3.5, 240, title, fontsize=7.8, fontweight='bold', ha='center', va='center')
    ov.text(xm - 29.5, 258, 'Australia', fontsize=8, ha='center', va='center')
    ov.text(xm + 28.5, 258, 'Huh7', fontsize=8, ha='center', va='center')
    ov.text(xm - 77, 286, 'TCGA\nLIHC', fontsize=8, ha='center', va='center', linespacing=0.95)
    ov.text(xm + 69.5, 283, 'HepG2', fontsize=8, ha='center', va='center')


venn(0, venn_up, '#1e6e1e', 0.3, '#8a8a8a', 'Upregulated in tumor', 0.52)
venn(188, venn_down, '#464646', 0.42, 'black', 'Downregulated in tumor', 0.42)

# G overlay: bar, gene labels, z score title
ov.add_patch(mpatches.Rectangle((hm_left, 489), 10 * cell_w, 6, facecolor='black', lw=0))
gene_texts = []
for i, g in enumerate(genes):
    gene_texts.append(ov.text(hm_left + cell_w * (i + 0.5), 478, g, rotation=90, ha='center', va='bottom',
                              fontsize=8))
ov.text(640, 431, 'z score', fontsize=8, ha='center', va='center')

# H legends
ov.scatter([337], [618], s=70, facecolor='#2e8b2e', edgecolor='#1f4f1f', lw=0.5)
ov.text(343, 618, 'upregulated in tumor', fontsize=8, va='center')
ov.scatter([337], [633], s=70, facecolor='#c8c8c8', edgecolor='#444444', lw=0.5)
ov.text(343, 633, 'downregulated in tumor', fontsize=8, va='center')
ov.text(347, 689, 'rel.exp.', fontsize=9, va='center')
for k, rv in enumerate(size_legend):
    yy = 710 + 16.7 * k
    ov.scatter([353], [yy], s=rel_size(rv), facecolor='white', edgecolor='black', lw=0.6)
    ov.text(363, yy, '%.2f' % rv, fontsize=8, va='center')
ov.add_patch(mpatches.Polygon([(394.3, 704), (394.3, 781.7), (407.3, 781.7)], closed=True,
                              facecolor='black', lw=0))

# asterisks and repel lines need text extents
fig.canvas.draw()
inv = ov.transData.inverted()
for t, g in zip(gene_texts, genes):
    if g in starred:
        bb = t.get_window_extent()
        xx, yy = inv.transform(((bb.x0 + bb.x1) / 2, bb.y1))
        ov.text(xx, yy - 5, '*', fontsize=12, color='#7b68b0', ha='center', va='center')

invH = axH.transData.inverted()
for t, px, py in zip(h_texts, H_tgt_x, H_tgt_y):
    if np.isnan(px):
        continue
    bb = t.get_window_extent()
    cx, cy = (bb.x0 + bb.x1) / 2, (bb.y0 + bb.y1) / 2
    tx, ty = axH.transData.transform((px, py))
    dx, dy = tx - cx, ty - cy
    hw, hh = (bb.x1 - bb.x0) / 2 + 1, (bb.y1 - bb.y0) / 2 + 0.5
    s = min(hw / abs(dx) if dx else np.inf, hh / abs(dy) if dy else np.inf)
    if s >= 1:
        continue
    sx, sy = invH.transform((cx + s * dx, cy + s * dy))
    axH.plot([sx, px], [sy, py], color='black', lw=0.7, zorder=2)

fig.savefig('out.png', dpi=100)
